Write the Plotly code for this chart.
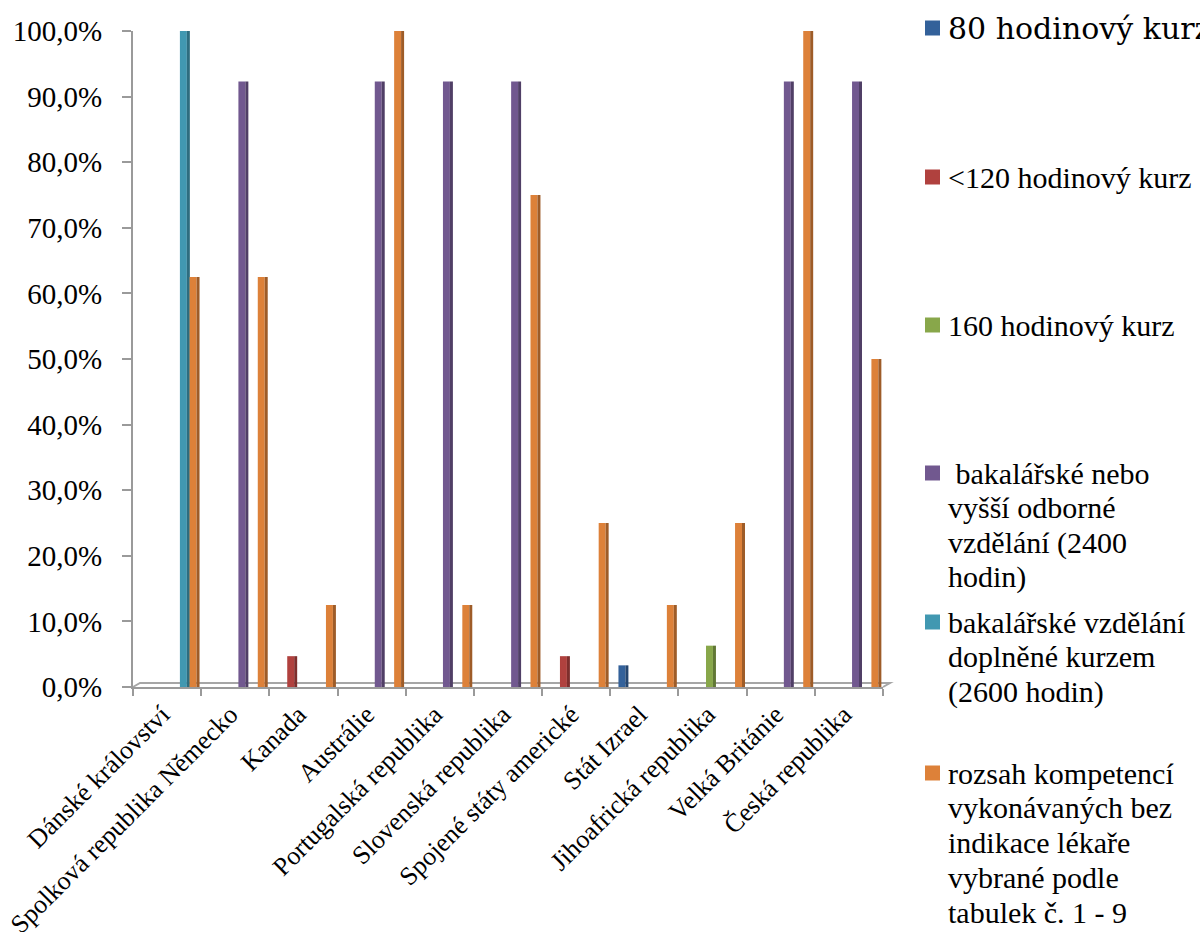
import plotly.graph_objects as go

# Countries on the category axis
countries = [
    "Dánské království",
    "Spolková republika Německo",
    "Kanada",
    "Austrálie",
    "Portugalská republika",
    "Slovenská republika",
    "Spojené státy americké",
    "Stát Izrael",
    "Jihoafrická republika",
    "Velká Británie",
    "Česká republika",
]

# Series names, one entry per key line
series_lines = [
    ["80 hodinový kurz"],
    ["&lt;120 hodinový kurz"],
    ["160 hodinový kurz"],
    [" bakalářské nebo", "vyšší odborné", "vzdělání (2400", "hodin)"],
    ["bakalářské vzdělání", "doplněné kurzem", "(2600 hodin)"],
    ["rozsah kompetencí", "vykonávaných bez", "indikace lékaře", "vybrané podle", "tabulek č. 1 - 9"],
]

# Share per country for each series (None = no bar)
kurz_80 = [None, None, None, None, None, None, None, 0.033, None, None, None]
kurz_120 = [None, None, 0.047, None, None, None, 0.047, None, None, None, None]
kurz_160 = [None, None, None, None, None, None, None, None, 0.063, None, None]
bakalar_vos = [None, 0.923, None, 0.923, 0.923, 0.923, None, None, None, 0.923, 0.923]
bakalar_kurz = [1.0, None, None, None, None, None, None, None, None, None, None]
kompetence = [0.625, 0.625, 0.125, 1.0, 0.125, 0.75, 0.25, 0.125, 0.25, 1.0, 0.5]

series_values = [kurz_80, kurz_120, kurz_160, bakalar_vos, bakalar_kurz, kompetence]

face_colors = ["#33619A", "#B0413E", "#88A74A", "#71588F", "#4198B1", "#DD8139"]
side_colors = ["#24456E", "#7E2E2C", "#617835", "#503F66", "#2E6D7F", "#9E5C28"]

FONT = "Liberation Serif"
KEY_FONTS = ["DejaVu Serif", FONT, FONT, FONT, FONT, FONT]

# Page size and the pixel box of the chart area
W, H = 1200, 932
PL, PR, PT, PB = 133, 883, 31, 687

# Geometry of the pseudo-3D columns, in category units
slot = 0.142
start = -0.38
face_w = 0.102
side_w = 0.044

fig = go.Figure()

for i, (lines, vals) in enumerate(zip(series_lines, series_values)):
    off = start + i * slot
    name = " ".join(s.strip() for s in lines).replace("&lt;", "<")
    fig.add_trace(go.Bar(
        x=countries, y=vals, name=name,
        offset=off, width=face_w,
        marker=dict(color=face_colors[i], line=dict(width=0)),
        showlegend=False, hoverinfo="skip",
    ))
    fig.add_trace(go.Bar(
        x=countries, y=vals, name=name,
        offset=off + face_w, width=side_w,
        marker=dict(color=side_colors[i], line=dict(width=0)),
        showlegend=False, hoverinfo="skip",
    ))

# Key on the right: colour squares on a pixel-scaled helper axis pair (x2/y2)
key_first_line = [28, 177, 325, 473, 622, 773]   # pixel centre of first line
key_line_step = 34.8
key_text_x = 946
key_sq_x = 932.5

sq_x = [key_sq_x] * len(series_lines)
fig.add_trace(go.Scatter(
    x=sq_x, y=key_first_line, xaxis="x2", yaxis="y2", mode="markers",
    marker=dict(symbol="square", size=15, color=face_colors, line=dict(width=0)),
    showlegend=False, hoverinfo="skip", cliponaxis=False,
))

# Key text, one annotation per line
for i, lines in enumerate(series_lines):
    fam = KEY_FONTS[i]
    for j, line in enumerate(lines):
        yc = key_first_line[i] + j * key_line_step
        fig.add_annotation(
            xref="paper", yref="paper",
            x=key_text_x / W, y=1 - yc / H,
            xanchor="left", yanchor="middle",
            text=f'<span style="font-family: {fam}">{line}</span>',
            showarrow=False,
            font=dict(family=fam, size=30, color="#000000"),
        )

fig.update_layout(
    width=W, height=H,
    margin=dict(l=0, r=0, t=0, b=0, autoexpand=False),
    paper_bgcolor="white", plot_bgcolor="rgba(0,0,0,0)",
    barmode="overlay",
    separators=", ",
    showlegend=False,
    font=dict(family=FONT, size=29, color="#000000"),
    xaxis=dict(
        type="category",
        domain=[PL / W, PR / W],
        range=[-0.5, 10.5],
        automargin=False,
        tickangle=-45,
        tickson="boundaries",
        ticks="outside", ticklen=7, tickwidth=2, tickcolor="#9a9a9a",
        ticklabelshift=-5,
        showline=True, linecolor="#9a9a9a", linewidth=2,
        showgrid=False, zeroline=False,
        tickfont=dict(family=FONT, size=26, color="#000000"),
    ),
    yaxis=dict(
        domain=[(H - PB) / H, (H - PT) / H],
        range=[0, 1.0],
        automargin=False,
        tick0=0, dtick=0.1,
        tickformat=".1%",
        ticks="outside", ticklen=9, tickwidth=2, tickcolor="#9a9a9a",
        ticklabelstandoff=14,
        showline=True, linecolor="#9a9a9a", linewidth=2,
        showgrid=False, zeroline=False,
        tickfont=dict(family=FONT, size=29, color="#000000"),
    ),
    xaxis2=dict(domain=[0, 1], range=[0, W], anchor="y2", visible=False,
                fixedrange=True, automargin=False),
    yaxis2=dict(domain=[0, 1], range=[H, 0], anchor="x2", visible=False,
                fixedrange=True, automargin=False),
)

# Floor edge of the 3D plot area
fx0, fx1 = PL / W, PR / W
fy0 = (H - PB) / H
dx, dy = 7 / W, 4 / H
fig.add_shape(
    type="path", xref="paper", yref="paper",
    path=f"M {fx0},{fy0} L {fx0 + dx},{fy0 + dy} L {fx1 + dx},{fy0 + dy} L {fx1},{fy0}",
    line=dict(color="#a6a6a6", width=2), layer="below",
)

fig.write_html("out.html")
